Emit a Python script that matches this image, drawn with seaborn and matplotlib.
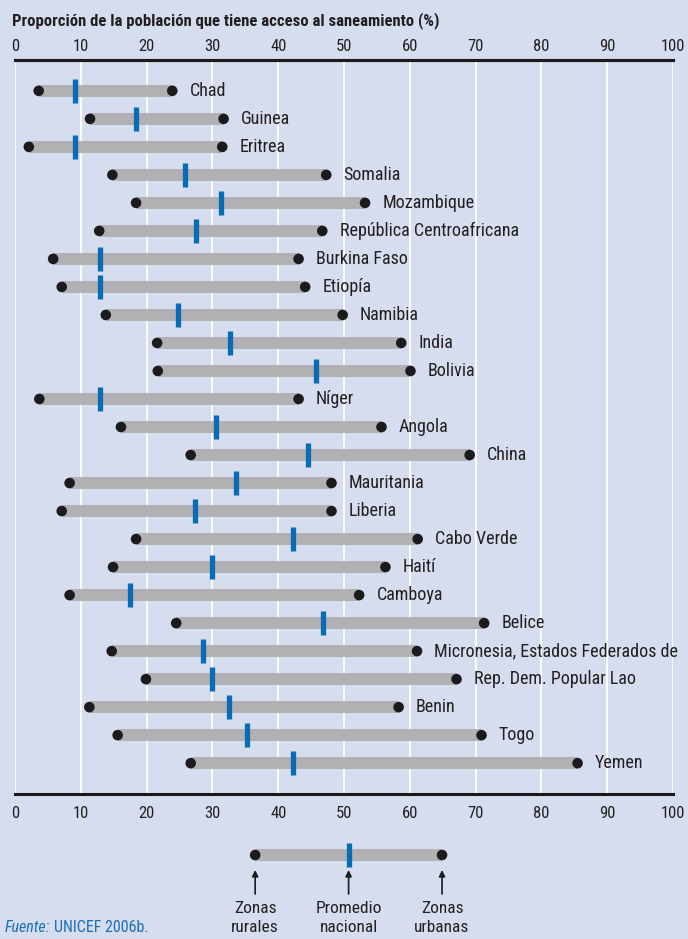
import matplotlib
matplotlib.use("Agg")
import matplotlib.pyplot as plt
from matplotlib import font_manager as fm
import seaborn as sns
import pandas as pd

# ---------------- data ----------------
countries = ["Chad", "Guinea", "Eritrea", "Somalia", "Mozambique",
             "República Centroafricana", "Burkina Faso", "Etiopía", "Namibia",
             "India", "Bolivia", "Níger", "Angola", "China", "Mauritania",
             "Liberia", "Cabo Verde", "Haití", "Camboya", "Belice",
             "Micronesia, Estados Federados de", "Rep. Dem. Popular Lao",
             "Benin", "Togo", "Yemen"]
rural = [3.6, 11.4, 2.1, 14.8, 18.4, 12.8, 5.8, 7.1, 13.8, 21.6, 21.7, 3.7,
         16.1, 26.7, 8.3, 7.1, 18.4, 14.9, 8.3, 24.5, 14.7, 19.9, 11.3, 15.6, 26.7]
national = [9.1, 18.4, 9.1, 25.9, 31.3, 27.5, 12.9, 12.9, 24.8, 32.6, 45.8, 12.9,
            30.6, 44.5, 33.6, 27.4, 42.3, 29.9, 17.5, 46.8, 28.5, 29.9, 32.5, 35.3, 42.3]
urban = [23.9, 31.7, 31.5, 47.3, 53.2, 46.7, 43.1, 44.1, 49.8, 58.7, 60.1, 43.1,
         55.7, 69.1, 48.1, 48.1, 61.2, 56.3, 52.3, 71.3, 61.1, 67.1, 58.3, 70.9, 85.5]
x_ticks = [0, 10, 20, 30, 40, 50, 60, 70, 80, 90, 100]
legend_vals = [36.5, 50.7, 64.9]
legend_labels = ["Zonas\nrurales", "Promedio\nnacional", "Zonas\nurbanas"]
title = "Proporción de la población que tiene acceso al saneamiento (%)"

# ---------------- style ----------------
BG = "#d5ddef"
GREY = "#b1b1b3"
BLUE = "#0a6bb5"
DOT = "#1b1b1d"
SRC_BLUE = "#1c6fb8"

sns.set_theme(style="white")
names = {f.name for f in fm.fontManager.ttflist}
narrow = None
for cand in ["Liberation Sans Narrow", "Roboto Condensed", "Open Sans Condensed"]:
    if cand in names:
        narrow = cand
        break
if narrow is None:
    narrow = "DejaVu Sans"
    STRETCH = "condensed"
else:
    STRETCH = "normal"
plt.rcParams["font.family"] = [narrow, "DejaVu Sans"]
plt.rcParams["font.stretch"] = STRETCH
TXT = "#231f20"

df = pd.DataFrame({"country": countries, "rural": rural,
                   "national": national, "urban": urban})
df["row"] = range(len(df))

W, H = 688, 939
fig = plt.figure(figsize=(W / 100, H / 100), dpi=100)
fig.patch.set_facecolor(BG)

def px_axes(x0, y0, x1, y1):
    return fig.add_axes([x0 / W, 1 - y1 / H, (x1 - x0) / W, (y1 - y0) / H])

ax = px_axes(15, 60, 673, 794)
ax.set_facecolor(BG)
n = len(df)
ax.set_xlim(0, 100)
ax.set_ylim(n - 1 + 1.1, -1.1)

for xv in x_ticks:
    ax.axvline(xv, color="white", lw=1.3, zorder=0)

# grey bars from rural to urban
ax.barh(df["row"], df["urban"] - df["rural"], left=df["rural"], height=0.44,
        color=GREY, edgecolor="none", zorder=1)

# dots
long = pd.concat([
    pd.DataFrame({"row": df["row"], "val": df["rural"]}),
    pd.DataFrame({"row": df["row"], "val": df["urban"]}),
])
sns.scatterplot(data=long, x="val", y="row", ax=ax, s=58, color=DOT,
                edgecolor="none", zorder=3, legend=False)
# national averages
sns.scatterplot(data=df, x="national", y="row", ax=ax, marker="|", s=300,
                color=BLUE, linewidth=3.8, zorder=4, legend=False)

for _, r in df.iterrows():
    ax.annotate(r["country"], (r["urban"], r["row"]), xytext=(12.5, 0),
                textcoords="offset points", va="center", ha="left",
                fontsize=13, color=TXT, zorder=5)

ax.set_xlabel("")
ax.set_ylabel("")
ax.set_yticks([])
ax.set_xticks(x_ticks)
ax.set_xticklabels([str(v) for v in x_ticks])
ax.tick_params(axis="x", which="both", top=False, bottom=False,
               labeltop=False, labelbottom=True, labelsize=12,
               colors=TXT, length=0, pad=9)
for s in ["left", "right"]:
    ax.spines[s].set_visible(False)
for s in ["top", "bottom"]:
    ax.spines[s].set_visible(True)
    ax.spines[s].set_color("#1a1a1a")
    ax.spines[s].set_linewidth(2.2)

top = ax.secondary_xaxis("top")
top.set_xticks(x_ticks)
top.set_xticklabels([str(v) for v in x_ticks])
top.tick_params(axis="x", length=0, pad=4, labelsize=12, colors=TXT)
top.spines["top"].set_color("#1a1a1a")
top.spines["top"].set_linewidth(2.2)

fig.text(12 / W, 1 - 21 / H, title, fontsize=12, fontweight="bold",
         color=TXT, ha="left", va="center")

# ---------------- legend sample ----------------
lax = px_axes(15, 830, 673, 939)
lax.set_xlim(0, 100)
lax.set_ylim(939, 830)
lax.axis("off")
leg_y = 855
lax.barh([leg_y], [legend_vals[2] - legend_vals[0]], left=[legend_vals[0]],
         height=12, color=GREY, edgecolor="none", zorder=1)
sns.scatterplot(x=[legend_vals[0], legend_vals[2]], y=[leg_y, leg_y], ax=lax,
                s=58, color=DOT, edgecolor="none", zorder=3, legend=False)
sns.scatterplot(x=[legend_vals[1]], y=[leg_y], ax=lax, marker="|", s=300,
                color=BLUE, linewidth=3.8, zorder=4, legend=False)
for xv, lab in zip(legend_vals, legend_labels):
    lax.annotate("", xy=(xv, 870), xytext=(xv, 894),
                 arrowprops=dict(arrowstyle="-|>", color=DOT, lw=1.2,
                                 mutation_scale=9, shrinkA=0, shrinkB=0))
    lax.text(xv, 918, lab, ha="center", va="center", fontsize=12.5,
             color=TXT, linespacing=1.35)
lax.set_xlabel("")
lax.set_ylabel("")

t1 = fig.text(5 / W, 1 - 928 / H, "Fuente:", fontsize=11.5, style="italic",
              color=SRC_BLUE, ha="left", va="center")
fig.canvas.draw()
bb = t1.get_window_extent(renderer=fig.canvas.get_renderer())
fig.text((bb.x1 + 4) / W, 1 - 928 / H, "UNICEF 2006b.", fontsize=11.5,
         color=SRC_BLUE, ha="left", va="center")

fig.savefig("out.png", dpi=100, facecolor=BG)
